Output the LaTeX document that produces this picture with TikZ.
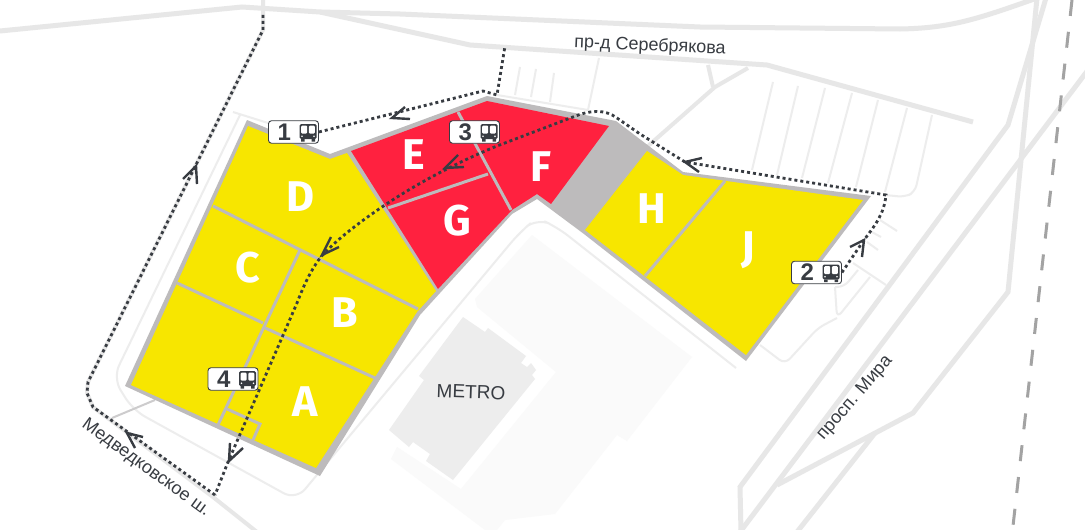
\documentclass[tikz,border=0pt]{standalone}
\usepackage{fontspec}
\setmainfont{Liberation Sans}
\newfontfamily\letterfont{Fira Sans Bold}
\definecolor{roadc}{HTML}{E7E7E7}
\definecolor{thinc}{HTML}{EDEDED}
\definecolor{wallc}{HTML}{BDBBBC}
\definecolor{yelc}{HTML}{F7E600}
\definecolor{redc}{HTML}{FF213F}
\definecolor{darkc}{HTML}{383C42}
\definecolor{railc}{HTML}{A3A3A3}
\definecolor{bldc}{HTML}{EDEDED}
\definecolor{lotc}{HTML}{FAFAFA}
\tikzset{
  road/.style={draw=roadc,line width=5pt,line join=miter},
  thin road/.style={draw=thinc,line width=2pt,rounded corners=7pt},
  sep/.style={draw=wallc,line width=3pt},
  cell letter/.style={text=white,font=\letterfont\fontsize{43}{43}\selectfont,inner sep=0pt},
  road name/.style={text=darkc,font=\fontsize{18}{18}\selectfont,inner sep=0pt},
  buslabel/.style={draw=darkc,fill=white,line width=.9pt,rounded corners=3pt,minimum width=50pt,minimum height=22.5pt,inner sep=0pt,text=darkc,font=\bfseries\fontsize{24}{24}\selectfont},
  route/.style={draw=darkc,line width=2.8pt,dash pattern=on 3pt off 3pt},
  chevron/.style={draw=darkc,line width=2.4pt},
  pics/busicon/.style={code={
    \fill[darkc,rounded corners=1.5pt] (-8.5,-8) rectangle (8.5,7);
    \fill[darkc] (-7,7) rectangle (-3.5,9.5) (3.5,7) rectangle (7,9.5);
    \fill[white,rounded corners=1pt] (-6.8,-6.3) rectangle (-.8,1.5);
    \fill[white,rounded corners=1pt] (.8,-6.3) rectangle (6.8,1.5);
    \fill[white] (-6,4.3) circle (.9) (6,4.3) circle (.9);
  }}
}
\newcommand{\buslbl}[1]{\makebox[50pt][l]{\hspace{9pt}#1}}
\begin{document}
\begin{tikzpicture}[x=1pt,y=-1pt]
\useasboundingbox (0,0) rectangle (1085,530);
\clip (0,0) rectangle (1085,530);
\fill[white] (0,0) rectangle (1085,530);
% light ground around the store
\fill[lotc] (532,235) -- (692,357) -- (627,441) -- (617,435) -- (555,514) -- (505,520) -- (497,530) -- (485,530) -- (391,459) -- (397,447) -- (461,489) -- (556,372) -- (477,307) -- (475,299) -- cycle;
\fill[bldc] (463,317) -- (485,332) -- (488,328) -- (526,356) -- (521,363) -- (527,367) -- (531,363) -- (536,370) -- (532,375) -- (535,379) -- (453,480) -- (426,461) -- (430,454) -- (413,442) -- (409,447) -- (389,430) -- (424,380) -- (419,376) -- cycle;
% roads
\draw[road] (0,31) -- (242,7) -- (320,12) -- (470,45) -- (767,65) -- (973,122);
\draw[road] (320,12) -- (400,14) -- (700,27) -- (900,29) .. controls (950,28) and (975,20) .. (1037,-2);
\draw[road,line width=4pt] (263,-2) -- (263,30) -- (88,382) -- (87,393) -- (93,407) -- (213,497) -- (257,532);
\draw[road,line width=4pt] (708,65) -- (713,87);
\draw[road,line width=4pt] (748,68) -- (715,87) -- (648,146);
\draw[road] (1046,-2) -- (1008,125) -- (740,487) -- (741,532);
\draw[road] (1088,70) -- (740,532);
\draw[road] (1037,-2) -- (1008,292) -- (913,413) -- (777,485);
\draw[road] (875,433) -- (797,532);
\draw[draw=railc,line width=3pt,dash pattern=on 16pt off 16pt] (1072,0) -- (1013,526);
% thin lanes
\foreach \a/\b/\c/\d in {773/82/752/170,798/86/777/175,825/88/802/178,852/93/828/183,878/100/856/187,907/108/885/192,520/67/515/95,536/69/531/97,554/73/550/102,599/58/588/110,497/95/588/110,880/220/897/231,870/231/881/237,867/242/878/250,853/263/886/285,233/112/268/123}
  \draw[thin road] (\a,\b) -- (\c,\d);
\draw[thin road] (932,115) -- (915,192) -- (905,197) -- (885,195);
\draw[thin road] (870,277) -- (837,318) -- (835,287);
\draw[thin road] (858,270) -- (844,287) -- (835,287);
\draw[thin road] (837,318) -- (818,328) -- (785,364) -- (760,345);
\draw[thin road,rounded corners=14pt] (240,115) -- (113,378) -- (133,410) -- (296,500) -- (520,232) -- (537,218) -- (557,227) -- (736,368);
\draw[draw=wallc!75!white,line width=2pt] (155,400) -- (112,418);
% building walls and cells
\fill[wallc] (247,120) -- (330,154) -- (487,96) -- (616,121) -- (683,172) -- (871,196) -- (746,361) -- (584,234) -- (537,199) -- (512,214) -- (440,293) -- (420,315) -- (320,476) -- (125,386) -- cycle;
\fill[yelc] (248,126) -- (330,159) -- (347,153) -- (436,291) -- (417,312) -- (316,468) -- (131,385) -- cycle;
\fill[redc] (351,151) -- (487,101) -- (609,126) -- (551,204) -- (537,194) -- (512,210) -- (438,289) -- cycle;
\fill[yelc] (647,151) -- (683,175) -- (863,200) -- (746,355) -- (585,230) -- cycle;
\draw[sep] (213,206) -- (418,309);
\draw[sep] (177,283) -- (263,323);
\draw[sep] (263,327) -- (375,378);
\draw[sep] (300,250) -- (218,425);
\draw[sep] (227,409) -- (260,424) -- (253,440);
\draw[sep] (458,112) -- (511,210);
\draw[sep] (488,174) -- (388,208);
\draw[sep] (725,181) -- (645,276);
% letters
\node[cell letter] (cD) at (300,197) {D};
\node[cell letter] (cC) at (248,268) {C};
\node[cell letter] (cB) at (345,313) {B};
\node[cell letter] (cA) at (305,402) {A};
\node[cell letter] (cE) at (414,155) {E};
\node[cell letter] (cF) at (541,167) {F};
\node[cell letter] (cG) at (457,221) {G};
\node[cell letter] (cH) at (652,209) {H};
\node[cell letter] (cJ) at (748,250) {J};
% stops
\node[buslabel] (bus1) at (293.5,132) {\buslbl{1}};
\node[buslabel] (bus2) at (816.5,272.5) {\buslbl{2}};
\node[buslabel] (bus3) at (474.5,132) {\buslbl{3}};
\node[buslabel] (bus4) at (233,379) {\buslbl{4}};
\coordinate (end1) at (505,46);
\coordinate (end2) at (263,13);
\coordinate (end3) at (215,495);
% routes
\draw[route] (bus1.east) -- (483,91) -- (497,95) -- (end1);
\draw[route] (bus2.east) -- (864,240) .. controls (876,224) and (884,214) .. (886,195) -- (685,162) -- (640,134) -- (617,118) .. controls (605,109) and (590,110) .. (573,117) -- (497,146) .. controls (470,157) and (425,178) .. (385,205) .. controls (355,225) and (333,243) .. (320,258) .. controls (309,273) and (302,290) .. (297,303) -- (228,462) -- (end3);
\draw[route] (end3) -- (93,407) -- (87,393) -- (88,382) -- (263,30) -- (end2);
% arrowheads
\draw[chevron] (405,107) -- (392,118) -- (410,119);
\draw[chevron] (702,158) -- (685,162) -- (699,172);
\draw[chevron] (850,247) -- (864,240) -- (862,257);
\draw[chevron] (458,155) -- (445,168) -- (464,167);
\draw[chevron] (331,237) -- (322,255) -- (339,247);
\draw[chevron] (230,443) -- (229,461) -- (243,448);
\draw[chevron] (143,437) -- (127,433) -- (135,448);
\draw[chevron] (183,179) -- (196,166) -- (197,184);
% bus icons
\pic at ([xshift=14.5pt]bus1.center) {busicon};
\pic at ([xshift=14.5pt]bus2.center) {busicon};
\pic at ([xshift=14.5pt]bus3.center) {busicon};
\pic at ([xshift=14.5pt]bus4.center) {busicon};
% names
\node[road name,rotate=-2.5] (n1) at (650,46) {пр-д Серебрякова};
\node[road name,rotate=-36] (n2) at (146,468) {Медведковское ш.};
\node[road name,rotate=49] (n3) at (855,398) {просп. Мира};
\node[road name,font=\fontsize{19}{19}\selectfont,rotate=-2] (n4) at (471,392) {METRO};
\end{tikzpicture}
\end{document}
